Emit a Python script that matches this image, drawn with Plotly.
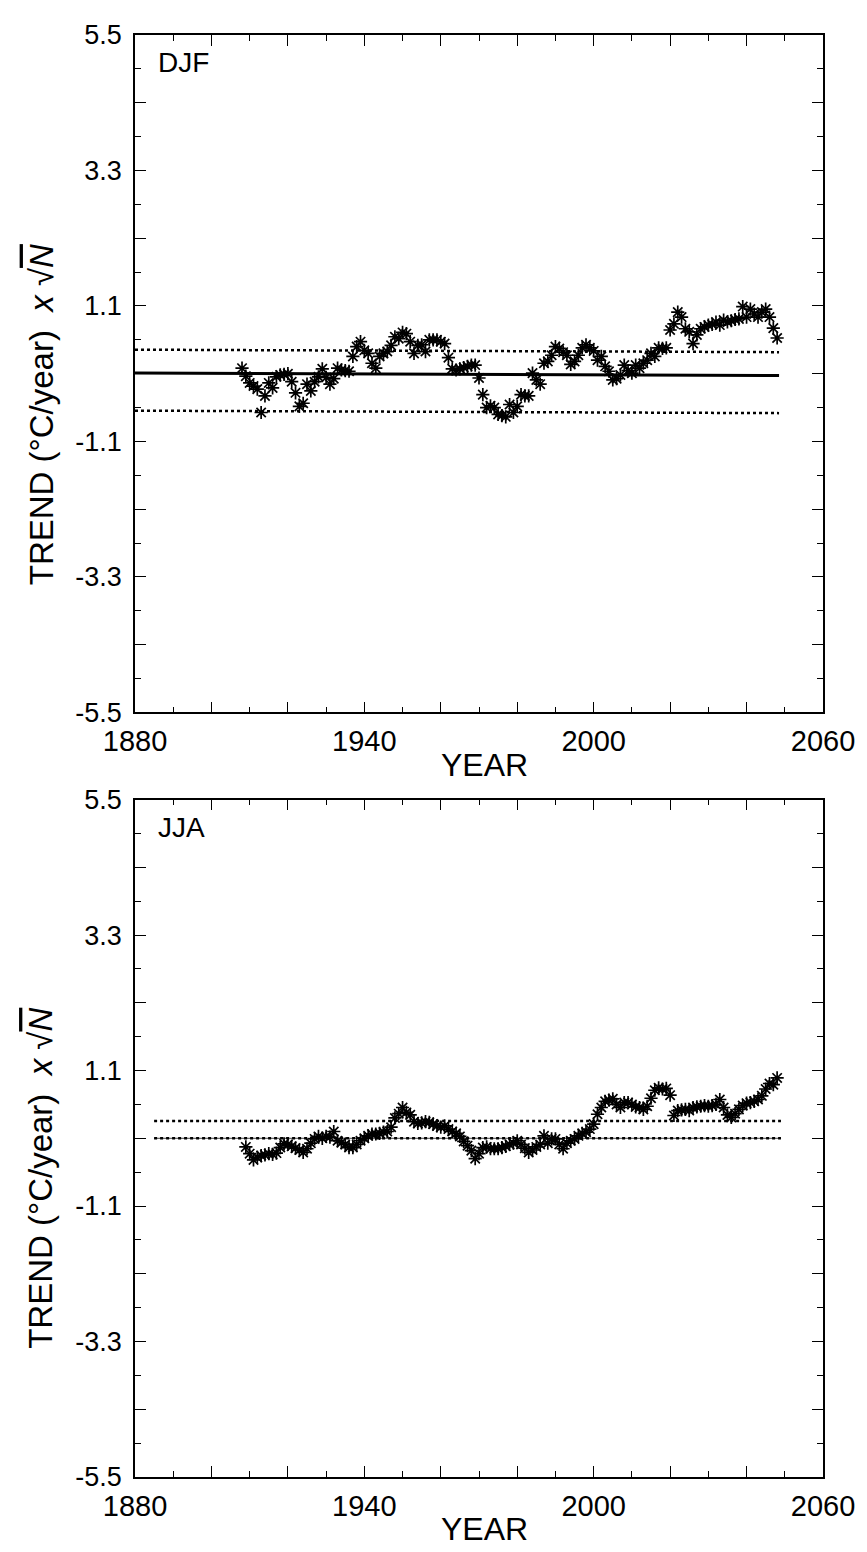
import plotly.graph_objects as go

# ---------------- data ----------------
djf_years = list(range(1908, 2049))
djf_values = [
    0.09, -0.04, -0.15, -0.20, -0.25, -0.63, -0.36, -0.15, -0.23, -0.05,   # 1908-1917
    -0.02, -0.01, 0.00, -0.13, -0.31, -0.53, -0.48, -0.17, -0.28, -0.13,  # 1918-1927
    -0.05, 0.08, -0.06, -0.17, -0.08, 0.09, 0.06, 0.05, 0.04, 0.28,       # 1928-1937
    0.44, 0.52, 0.38, 0.33, 0.17, 0.09, 0.28, 0.33, 0.36, 0.46,           # 1938-1947
    0.60, 0.57, 0.67, 0.65, 0.52, 0.33, 0.46, 0.47, 0.36, 0.55,           # 1948-1957
    0.55, 0.55, 0.52, 0.49, 0.26, 0.08, 0.06, 0.08, 0.10, 0.12,           # 1958-1967
    0.14, 0.14, -0.07, -0.34, -0.55, -0.52, -0.55, -0.66, -0.68, -0.70,   # 1968-1977
    -0.50, -0.63, -0.53, -0.34, -0.36, -0.36, 0.01, -0.10, -0.17, 0.17,   # 1978-1987
    0.20, 0.30, 0.44, 0.41, 0.35, 0.30, 0.15, 0.20, 0.30, 0.42,           # 1988-1997
    0.47, 0.42, 0.37, 0.22, 0.28, 0.12, 0.04, -0.10, -0.08, -0.02,        # 1998-2007
    0.14, 0.05, 0.01, 0.14, 0.09, 0.17, 0.22, 0.33, 0.28, 0.42,           # 2008-2017
    0.41, 0.42, 0.71, 0.81, 1.00, 0.92, 0.73, 0.68, 0.49, 0.63,           # 2018-2027
    0.73, 0.76, 0.79, 0.80, 0.84, 0.79, 0.87, 0.84, 0.86, 0.88,           # 2028-2037
    0.89, 1.09, 0.92, 1.05, 0.97, 0.92, 1.00, 1.05, 0.92, 0.74,           # 2038-2047
    0.58,                                                                 # 2048
]

jja_years = list(range(1909, 2049))
jja_values = [
    -0.14, -0.25, -0.35, -0.31, -0.28, -0.27, -0.25, -0.26, -0.24, -0.15,  # 1909-1918
    -0.09, -0.10, -0.13, -0.16, -0.19, -0.23, -0.17, -0.08, -0.01, 0.03,   # 1919-1928
    0.00, 0.03, 0.02, 0.11, -0.04, -0.07, -0.10, -0.15, -0.15, -0.10,      # 1929-1938
    -0.04, 0.00, 0.04, 0.07, 0.07, 0.08, 0.10, 0.11, 0.18, 0.33,           # 1939-1948
    0.40, 0.50, 0.42, 0.38, 0.27, 0.24, 0.25, 0.27, 0.26, 0.23,            # 1949-1958
    0.20, 0.18, 0.20, 0.15, 0.11, 0.08, 0.03, -0.05, -0.12, -0.20,         # 1959-1968
    -0.33, -0.25, -0.15, -0.14, -0.17, -0.17, -0.17, -0.15, -0.13, -0.10,  # 1969-1978
    -0.08, -0.04, -0.10, -0.16, -0.23, -0.19, -0.14, -0.10, 0.04, -0.08,   # 1979-1988
    -0.01, -0.01, -0.10, -0.17, -0.08, -0.04, -0.01, 0.04, 0.08, 0.10,     # 1989-1998
    0.15, 0.23, 0.39, 0.50, 0.60, 0.62, 0.64, 0.55, 0.50, 0.58,            # 1999-2008
    0.58, 0.55, 0.51, 0.50, 0.47, 0.52, 0.65, 0.78, 0.82, 0.80,            # 2009-2018
    0.81, 0.70, 0.37, 0.45, 0.46, 0.47, 0.45, 0.50, 0.51, 0.52,            # 2019-2028
    0.53, 0.52, 0.53, 0.55, 0.63, 0.50, 0.38, 0.34, 0.40, 0.47,            # 2029-2038
    0.53, 0.57, 0.58, 0.60, 0.63, 0.69, 0.80, 0.89, 0.87, 0.98,            # 2039-2048
]

# reference lines (mean and bounds), endpoints
djf_line_years = [1880, 2048.5]
djf_mean = [0.01, -0.03]
djf_upper = [0.39, 0.35]
djf_lower = [-0.60, -0.64]

jja_line_years = [1885, 2049]
jja_mean = [0.0, 0.0]
jja_upper = [0.28, 0.28]
jja_lower = [0.0, 0.0]

panel_labels = ["DJF", "JJA"]
x_tickvals = [1880, 1900, 1920, 1940, 1960, 1980, 2000, 2020, 2040, 2060]
x_ticktext = ["1880", "", "", "1940", "", "", "2000", "", "", "2060"]
y_tickvals = [-5.5, -4.4, -3.3, -2.2, -1.1, 0.0, 1.1, 2.2, 3.3, 4.4, 5.5]
y_ticktext = ["-5.5", "", "-3.3", "", "-1.1", "", "1.1", "", "3.3", "", "5.5"]
x_title = "YEAR"
y_title = ("TREND (°C/year)&nbsp;&nbsp;<i>x</i> √"
           "<span style='text-decoration:overline'><i>N</i></span>")

# ---------------- figure ----------------
# page body has an 8px margin: figure sized so it ends at the window edge
OFF = 8
W, H = 867 - OFF, 1552 - OFF
FX0, FX1 = 135, 830          # frame in screen pixels
FY0, FY1 = 21, 1477
L, R = FX0 - OFF, W - (FX1 - OFF)
T, B = FY0 - OFF, H - (FY1 - OFF)
plot_h = FY1 - FY0
plot_w = FX1 - FX0
def py(sy):  # screen row -> paper y
    return (FY1 - sy) / plot_h
def px(sx):
    return (sx - FX0) / plot_w

top_dom = [py(705), 1.0]
bot_dom = [0.0, py(793)]

fig = go.Figure()

def add_panel(xa, ya, years, vals, ly, mean, up, lo, mean_w, mean_col):
    fig.add_trace(go.Scatter(x=ly, y=mean, mode="lines",
                             line=dict(color=mean_col, width=mean_w),
                             xaxis=xa, yaxis=ya, showlegend=False, hoverinfo="skip"))
    for arr in (up, lo):
        fig.add_trace(go.Scatter(x=ly, y=arr, mode="lines",
                                 line=dict(color="black", width=2.5, dash="dot"),
                                 xaxis=xa, yaxis=ya, showlegend=False, hoverinfo="skip"))
    fig.add_trace(go.Scatter(x=years, y=vals, mode="markers",
                             marker=dict(symbol="asterisk-open", size=11, color="black",
                                         line=dict(color="black", width=1.7)),
                             xaxis=xa, yaxis=ya, showlegend=False))

add_panel("x", "y", djf_years, djf_values, djf_line_years,
          djf_mean, djf_upper, djf_lower, 3, "black")
add_panel("x2", "y2", jja_years, jja_values, jja_line_years,
          jja_mean, jja_upper, jja_lower, 1, "#444")

xfont = dict(family="Liberation Sans, Arial", size=29, color="black")
yfont = dict(family="Liberation Sans, Arial", size=27, color="black")

def xaxis_cfg(anchor):
    return dict(range=[1880, 2060], domain=[0, 1], anchor=anchor,
                tickvals=x_tickvals, ticktext=x_ticktext,
                ticks="inside", ticklen=11, tickwidth=1.3, tickcolor="black",
                minor=dict(dtick=10, tick0=1880, ticks="inside", ticklen=6,
                           tickwidth=1.2, tickcolor="black"),
                showline=True, linecolor="black", linewidth=1.5, mirror="allticks",
                showgrid=False, zeroline=False, tickfont=xfont,
                ticklabeloverflow="allow", ticklabelstandoff=2)

def yaxis_cfg(anchor, dom):
    return dict(range=[-5.5, 5.5], domain=dom, anchor=anchor,
                tickvals=y_tickvals, ticktext=y_ticktext,
                ticks="inside", ticklen=11, tickwidth=1.3, tickcolor="black",
                minor=dict(dtick=0.55, tick0=-5.5, ticks="inside", ticklen=6,
                           tickwidth=1.2, tickcolor="black"),
                showline=True, linecolor="black", linewidth=1.5, mirror="allticks",
                showgrid=False, zeroline=False, tickfont=yfont,
                ticklabeloverflow="allow", ticklabelstandoff=6)

annotations = []
for i, (yr, lbl) in enumerate(zip(["y", "y2"], panel_labels)):
    annotations.append(dict(text=lbl, x=1885.4, y=5.05, xref="x" if i == 0 else "x2",
                            yref=yr, xanchor="left", yanchor="middle", showarrow=False,
                            font=dict(family="Liberation Sans, Arial", size=28, color="black")))
for ypix in (758, 1530):
    annotations.append(dict(text=x_title, x=px(488), y=py(ypix), xref="paper", yref="paper",
                            xanchor="center", yanchor="middle", showarrow=False,
                            font=dict(family="Liberation Sans, Arial", size=32, color="black")))
for ypix in (404, 1175):
    annotations.append(dict(text=y_title, x=px(40), y=py(ypix), xref="paper", yref="paper",
                            xanchor="center", yanchor="middle", textangle=-90, showarrow=False,
                            font=dict(family="Liberation Sans, Arial", size=33, color="black")))

fig.update_layout(
    width=W, height=H,
    margin=dict(l=L, r=R, t=T, b=B),
    paper_bgcolor="white", plot_bgcolor="white",
    xaxis=xaxis_cfg("y"), yaxis=yaxis_cfg("x", top_dom),
    xaxis2=xaxis_cfg("y2"), yaxis2=yaxis_cfg("x2", bot_dom),
    annotations=annotations,
)

fig.write_html("out.html")
